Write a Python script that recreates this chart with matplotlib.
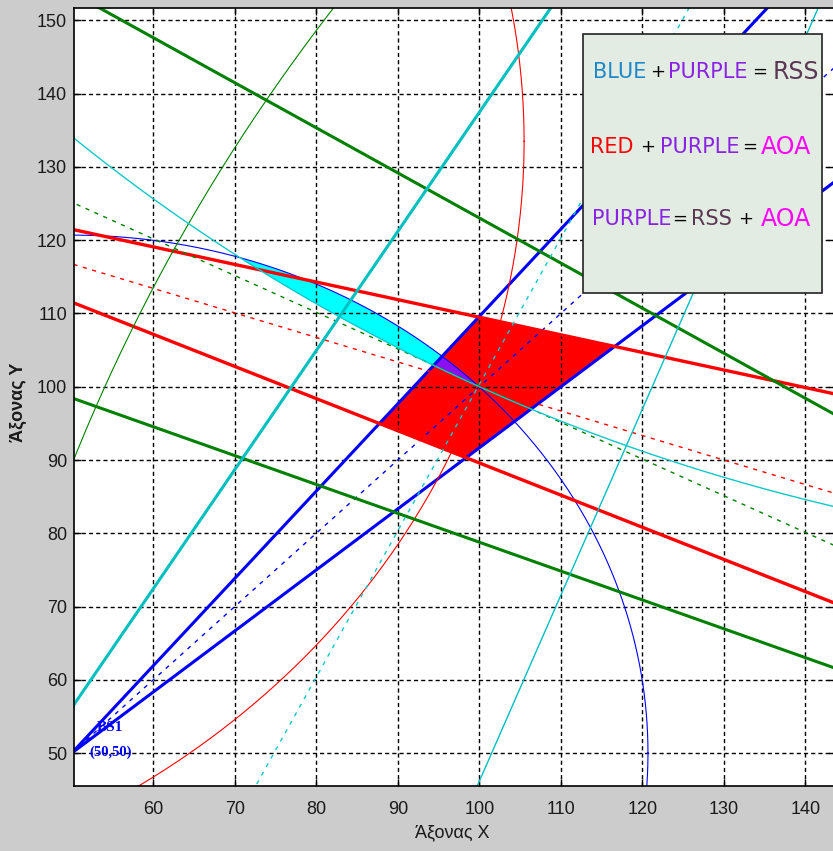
import numpy as np
import matplotlib.pyplot as plt
from matplotlib.patches import Polygon, Rectangle

# base stations: blue, red, green, cyan
st_x = [50, 0, 300, 200]
st_y = [50, 133.5, 0, 300]
# AOA bearings (deg): bound, centre, bound
blue_ang = [39.8, 45.0, 50.0]
red_ang = [-13.5, -18.5, -23.7]
green_ang = [148.4, 153.4, 158.5]
cyan_ang = [238.4, 243.4, 248.5]
# RSS circle radii
blue_r = 70.7
red_r = 105.5
green_r = 265.5
cyan_r = 223.6

x_ticks = [60, 70, 80, 90, 100, 110, 120, 130, 140]
y_ticks = [50, 60, 70, 80, 90, 100, 110, 120, 130, 140, 150]

c_blue = '#0000ff'
c_red = '#ff0000'
c_green = '#008000'
c_cyan = '#00bfbf'


def ray(i, ang, L=450):
    a = np.radians(ang)
    return [st_x[i], st_x[i] + L * np.cos(a)], [st_y[i], st_y[i] + L * np.sin(a)]


def cross(i, a1, j, a2):
    d1 = np.array([np.cos(np.radians(a1)), np.sin(np.radians(a1))])
    d2 = np.array([np.cos(np.radians(a2)), np.sin(np.radians(a2))])
    p = np.array([st_x[i], st_y[i]])
    q = np.array([st_x[j], st_y[j]])
    t = np.linalg.solve(np.column_stack([d1, -d2]), q - p)
    return p + t[0] * d1


def circle(i, r):
    t = np.linspace(0, 2 * np.pi, 3000)
    return st_x[i] + r * np.cos(t), st_y[i] + r * np.sin(t)


fig = plt.figure(figsize=(8.33, 8.51), dpi=100)
fig.patch.set_facecolor('#cccccc')
ax = fig.add_axes([74 / 833, 65 / 851, 761 / 833, 778 / 851])
ax.set_facecolor('white')

# RSS lens (inside blue circle and cyan circle)
xs = np.linspace(55, 110, 2000)
upper = st_y[0] + np.sqrt(np.clip(blue_r ** 2 - (xs - st_x[0]) ** 2, 0, None))
lower = st_y[3] - np.sqrt(np.clip(cyan_r ** 2 - (xs - st_x[3]) ** 2, 0, None))
ax.fill_between(xs, lower, upper, where=upper >= lower, interpolate=True,
                color='#00ffff', lw=0, zorder=1)

# AOA intersection
quad = [cross(0, blue_ang[2], 1, red_ang[0]), cross(0, blue_ang[0], 1, red_ang[0]),
        cross(0, blue_ang[0], 1, red_ang[2]), cross(0, blue_ang[2], 1, red_ang[2])]
ax.add_patch(Polygon(quad, closed=True, facecolor=c_red, edgecolor='none', zorder=1))

# RSS + AOA
pur = ax.fill_between(xs, lower, upper, where=upper >= lower, interpolate=True,
                      color='#8a10f0', lw=0, zorder=1.2)
pur.set_clip_path(Polygon(quad, closed=True, transform=ax.transData))

# station, angles, radius, colour, circle width, bound widths
groups = [(0, blue_ang, blue_r, c_blue, 0.8, (2.2, 2.2)),
          (1, red_ang, red_r, c_red, 0.8, (2.4, 2.4)),
          (2, green_ang, green_r, c_green, 0.8, (2.2, 2.2)),
          (3, cyan_ang, cyan_r, '#10c8c8', 1.0, (2.2, 1.0))]
for i, angs, r, col, thin, bw in groups:
    thick = c_cyan if i == 3 else col
    for k, w in zip((0, 2), bw):
        lx, ly = ray(i, angs[k])
        ax.plot(lx, ly, color=thick, lw=w, zorder=2)
    lx, ly = ray(i, angs[1])
    ax.plot(lx, ly, color=col if i != 3 else '#10c8c8', lw=1.0, ls=(0, (3, 4)), zorder=2)
    cx, cy = circle(i, r)
    ax.plot(cx, cy, color=col, lw=thin, zorder=2)

ax.text(54.7, 53.5, 'BS1', color=c_blue, fontsize=11, fontweight='bold',
        family='Liberation Serif', ha='center', va='center', zorder=3)
ax.text(54.8, 50.1, '(50,50)', color=c_blue, fontsize=10.5, fontweight='bold',
        family='Liberation Serif', ha='center', va='center', zorder=3)

ax.set_xlim(50.27, 143.65)
ax.set_ylim(45.5, 151.7)
ax.set_xticks(x_ticks)
ax.set_yticks(y_ticks)
ax.set_axisbelow('line')
ax.grid(True, color='black', lw=1.0, ls=(0, (3, 2.2)))
ax.tick_params(direction='in', length=5, width=1, top=True, right=True,
               labelsize=13, labelfontfamily='Liberation Sans', labelcolor='#1a1a1a')
ax.tick_params(axis='x', pad=11)
ax.tick_params(axis='y', pad=5)
for s in ax.spines.values():
    s.set_linewidth(1.2)

fig.text(452 / 833, 1 - 833 / 851, 'Άξονας Χ', fontsize=13, family='Liberation Sans',
         ha='center', va='center', color='#1a1a1a')
fig.text(18 / 833, 1 - 402 / 851, 'Άξονας Υ', fontsize=13, family='Liberation Sans',
         fontweight='bold', rotation=90, ha='center', va='center', color='#1a1a1a')

# legend box
def fx(px):
    return (px - 74) / 761


def fy(py):
    return (786 - py) / 778


ax.add_patch(Rectangle((fx(583), fy(293)), fx(822) - fx(583), fy(34) - fy(293),
                       transform=ax.transAxes, facecolor='#e2ece2', edgecolor='#222222',
                       lw=1.2, zorder=5))

c_lblue = '#1e88c8'
c_purple = '#8a22e6'
c_rss = '#5a3852'
c_aoa = '#ff00ff'
rows = [
    (72, [('BLUE', 620, c_lblue, 15), ('+', 658, 'black', 13), ('PURPLE', 708, c_purple, 15),
          ('=', 760, 'black', 13), ('RSS', 796, c_rss, 17)]),
    (147, [('RED', 612, c_red, 15), ('+', 648, 'black', 13), ('PURPLE', 700, c_purple, 15),
           ('=', 750, 'black', 13), ('AOA', 786, c_aoa, 17)]),
    (219, [('PURPLE', 632, c_purple, 15), ('=', 680, 'black', 13), ('RSS', 711, c_rss, 15),
           ('+', 746, 'black', 13), ('AOA', 786, c_aoa, 17)]),
]
for py, words in rows:
    for w, px, col, fs in words:
        ax.text(fx(px), fy(py), w, transform=ax.transAxes, color=col, fontsize=fs,
                family=['Liberation Sans Narrow', 'DejaVu Sans'], ha='center', va='center',
                zorder=6)

fig.savefig('out.png', dpi=100, facecolor=fig.get_facecolor())
